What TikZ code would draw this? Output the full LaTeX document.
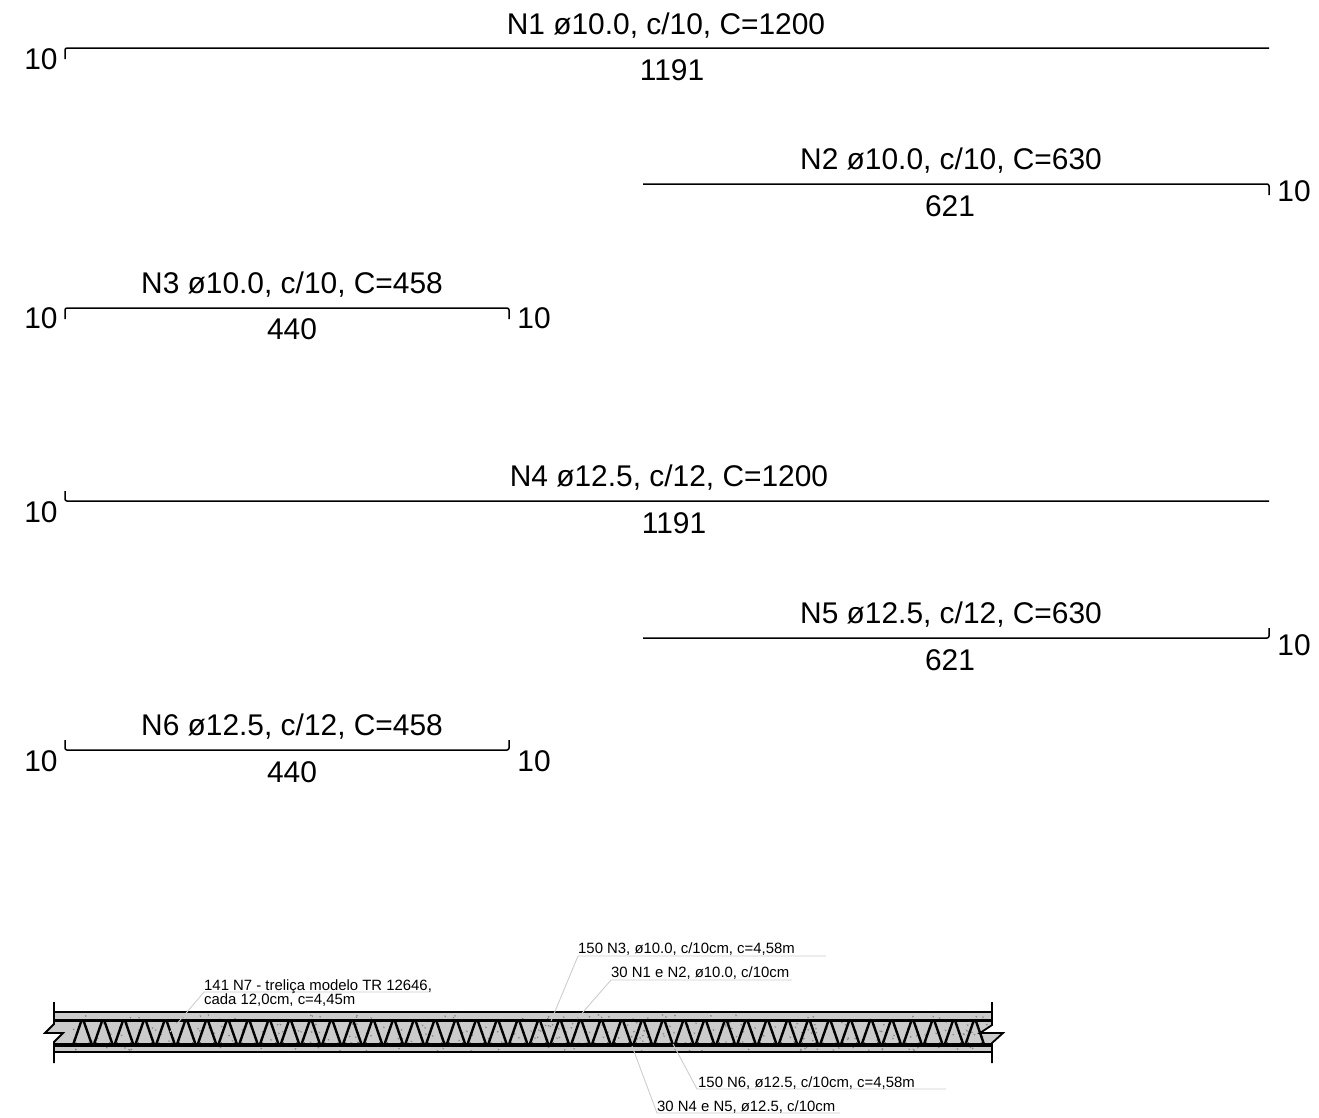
\documentclass[tikz,border=0pt]{standalone}
\usepackage{fontspec}
\setmainfont{Liberation Sans}
\usepackage{tikz}
\definecolor{slabgray}{RGB}{203,203,203}
\definecolor{speckgray}{RGB}{135,135,135}
\definecolor{leadergray}{RGB}{205,205,205}
\tikzset{
    bar/.style={black, line width=1.5pt, rounded corners=2pt},
    barlabel/.style={inner sep=0pt, anchor=base, font=\fontsize{29.9}{30}\selectfont},
    notelabel/.style={inner sep=0pt, anchor=base west, font=\fontsize{14.9}{14}\selectfont},
    leader/.style={leadergray, line width=0.9pt},
    slabline/.style={black, line width=1.8pt},
    chord/.style={black, line width=3.5pt},
    web/.style={black, line width=2.4pt}
}
\newcommand{\Slab}{
    \fill[slabgray] (54,1012) -- (992,1012) -- (992,1025) -- (980,1033) -- (1003,1033) -- (992,1043)
        -- (992,1052) -- (54,1052) -- (54,1042) -- (63,1033) -- (45,1033) -- (54,1024) -- cycle;
    \pgfmathsetseed{417}
    \foreach \i in {1,...,320}{
        \pgfmathsetmacro{\sx}{62+rnd*925}
        \pgfmathsetmacro{\sy}{1014+rnd*36}
        \fill[speckgray] (\sx,\sy) -- ++(2,0.7) -- ++(-1.3,1.2) -- cycle;
    }
    \draw[slabline] (54,1012) -- (992,1012);
    \draw[slabline] (54,1052) -- (992,1052);
    \draw[chord] (54,1020.5) -- (992,1020.5);
    \draw[chord] (54,1045) -- (992,1045);
    \foreach \i in {0,...,43}{
        \pgfmathsetmacro{\xa}{73+\i*20.75}
        \pgfmathsetmacro{\xb}{\xa+8.5}
        \pgfmathsetmacro{\xc}{\xa+10.5}
        \pgfmathsetmacro{\xd}{\xa+19}
        \draw[web] (\xa,1045) -- (\xb,1020.5) -- (\xc,1020.5) -- (\xd,1045);
        \fill[black] (\xa+3,1043.5) circle (1.1);
        \fill[black] (\xd-3,1043.5) circle (1.1);
    }
    \draw[slabline] (54,1002) -- (54,1024) -- (45,1033) -- (63,1033) -- (54,1042) -- (54,1063);
    \draw[slabline] (992,1002) -- (992,1025) -- (980,1033) -- (1003,1033) -- (992,1043) -- (992,1063);
}

\begin{document}
\begin{tikzpicture}[x=1pt, y=-1pt]
    \useasboundingbox (0,0) rectangle (1319,1117);

    \draw[bar] (65,59) -- (65,48) -- (1269,48);
    \node[barlabel] (nOne) at (666,34) {N1 ø10.0, c/10, C=1200};
    \node[barlabel] (lenOne) at (672,80) {1191};
    \node[barlabel] (hookOne) at (41,69) {10};

    \draw[bar] (643,184) -- (1269,184) -- (1269,195);
    \node[barlabel] (nTwo) at (951,169) {N2 ø10.0, c/10, C=630};
    \node[barlabel] (lenTwo) at (950,216) {621};
    \node[barlabel] (hookTwo) at (1294,201) {10};

    \draw[bar] (65,319) -- (65,308) -- (509,308) -- (509,319);
    \node[barlabel] (nThree) at (292,293) {N3 ø10.0, c/10, C=458};
    \node[barlabel] (lenThree) at (292,339) {440};
    \node[barlabel] (hookThreeA) at (41,328) {10};
    \node[barlabel] (hookThreeB) at (534,328) {10};

    \draw[bar] (65,491) -- (65,501) -- (1269,501);
    \node[barlabel] (nFour) at (669,486) {N4 ø12.5, c/12, C=1200};
    \node[barlabel] (lenFour) at (674,533) {1191};
    \node[barlabel] (hookFour) at (41,522) {10};

    \draw[bar] (643,638) -- (1269,638) -- (1269,628);
    \node[barlabel] (nFive) at (951,623) {N5 ø12.5, c/12, C=630};
    \node[barlabel] (lenFive) at (950,670) {621};
    \node[barlabel] (hookFive) at (1294,655) {10};

    \draw[bar] (65,740) -- (65,750) -- (509,750) -- (509,740);
    \node[barlabel] (nSix) at (292,735) {N6 ø12.5, c/12, C=458};
    \node[barlabel] (lenSix) at (292,782) {440};
    \node[barlabel] (hookSixA) at (41,771) {10};
    \node[barlabel] (hookSixB) at (534,771) {10};

    \Slab

    \coordinate (trussTip) at (170,1032);
    \coordinate (trussBend) at (204,992);
    \coordinate (trussEnd) at (431,992);
    \draw[leader] (trussTip) -- (trussBend) -- (trussEnd);
    \node[notelabel] (trussA) at (204,990) {141 N7 - treliça modelo TR 12646,};
    \node[notelabel] (trussB) at (204,1004) {cada 12,0cm, c=4,45m};

    \coordinate (threeTip) at (551,1021);
    \coordinate (threeBend) at (578,956);
    \coordinate (threeEnd) at (826,956);
    \draw[leader] (threeTip) -- (threeBend) -- (threeEnd);
    \node[notelabel] (threeNote) at (578,953) {150 N3, ø10.0, c/10cm, c=4,58m};

    \coordinate (oneTip) at (577,1019);
    \coordinate (oneBend) at (611,980);
    \coordinate (oneEnd) at (792,980);
    \draw[leader] (oneTip) -- (oneBend) -- (oneEnd);
    \node[notelabel] (oneNote) at (611,977) {30 N1 e N2, ø10.0, c/10cm};

    \coordinate (sixTip) at (673,1044);
    \coordinate (sixBend) at (697,1089);
    \coordinate (sixEnd) at (946,1089);
    \draw[leader] (sixTip) -- (sixBend) -- (sixEnd);
    \node[notelabel] (sixNote) at (698,1087) {150 N6, ø12.5, c/10cm, c=4,58m};

    \coordinate (fourTip) at (632,1046);
    \coordinate (fourBend) at (657,1113);
    \coordinate (fourEnd) at (840,1113);
    \draw[leader] (fourTip) -- (fourBend) -- (fourEnd);
    \node[notelabel] (fourNote) at (657,1111) {30 N4 e N5, ø12.5, c/10cm};
\end{tikzpicture}
\end{document}
